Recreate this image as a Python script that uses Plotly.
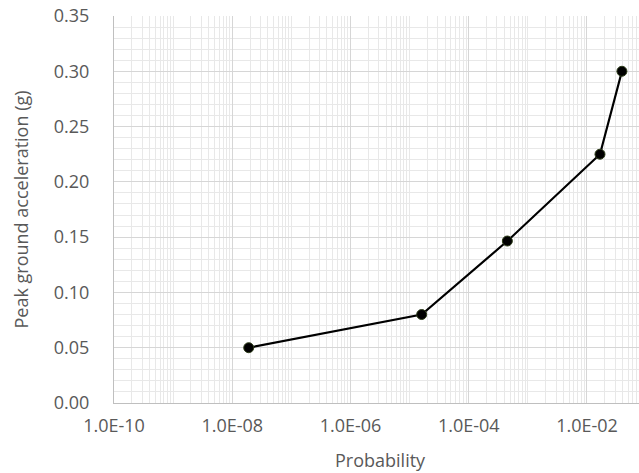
import plotly.graph_objects as go

probability = [1.9e-8, 1.6e-5, 4.5e-4, 1.66e-2, 3.9e-2]
pga = [0.05, 0.08, 0.1465, 0.225, 0.30]

x_tickvals = [1e-10, 1e-8, 1e-6, 1e-4, 1e-2]
x_ticktext = ["1.0E-10", "1.0E-08", "1.0E-06", "1.0E-04", "1.0E-02"]

FONT = "Open Sans, Lato, sans-serif"
TXT = "#595959"

L, R, T, B = 114, 0, 16, 70
W, H = 639, 473
PW = W - L - R

fig = go.Figure()
fig.add_trace(go.Scatter(
    x=probability, y=pga, mode="lines+markers",
    line=dict(color="black", width=2.2),
    marker=dict(color="black", size=10, line=dict(color="#2e3d1a", width=1)),
    showlegend=False,
))

fig.update_layout(
    width=W, height=H,
    margin=dict(l=L, r=R, t=T, b=B),
    paper_bgcolor="white", plot_bgcolor="white",
    font=dict(family=FONT, size=18, color=TXT),
)
fig.update_xaxes(
    type="log", range=[-10, -1.12],
    tickmode="array", tickvals=x_tickvals, ticktext=x_ticktext,
    showgrid=True, gridcolor="#d6d6d6", gridwidth=1,
    minor=dict(dtick="D1", showgrid=True, gridcolor="#e8e8e8", gridwidth=1, ticks=""),
    showline=True, linecolor="#bfbfbf", linewidth=1,
    ticks="", tickfont=dict(size=18, color=TXT), ticklabelstandoff=6,
    automargin=False, zeroline=False,
)
fig.update_yaxes(
    range=[0, 0.35], dtick=0.05, tick0=0, tickformat=".2f",
    showgrid=True, gridcolor="#d6d6d6", gridwidth=1,
    minor=dict(dtick=0.01, showgrid=True, gridcolor="#e8e8e8", gridwidth=1, ticks=""),
    showline=True, linecolor="#bfbfbf", linewidth=1,
    ticks="", tickfont=dict(size=18, color=TXT), ticklabelstandoff=20,
    automargin=False, zeroline=False,
)

fig.add_annotation(
    text="Peak ground acceleration (g)", textangle=-90,
    xref="paper", yref="paper", x=0, y=0.5, xshift=20 - L,
    xanchor="center", yanchor="middle", showarrow=False,
    font=dict(size=18, color=TXT),
)
fig.add_annotation(
    text="Probability",
    xref="paper", yref="paper", x=(380 - L) / PW, y=0, yshift=-(460 - (H - B)),
    xanchor="center", yanchor="middle", showarrow=False,
    font=dict(size=18, color=TXT),
)

fig.write_html(
    "out.html",
    config={"displayModeBar": False},
    post_script="document.body.style.margin='0';document.body.style.overflow='hidden';",
)
